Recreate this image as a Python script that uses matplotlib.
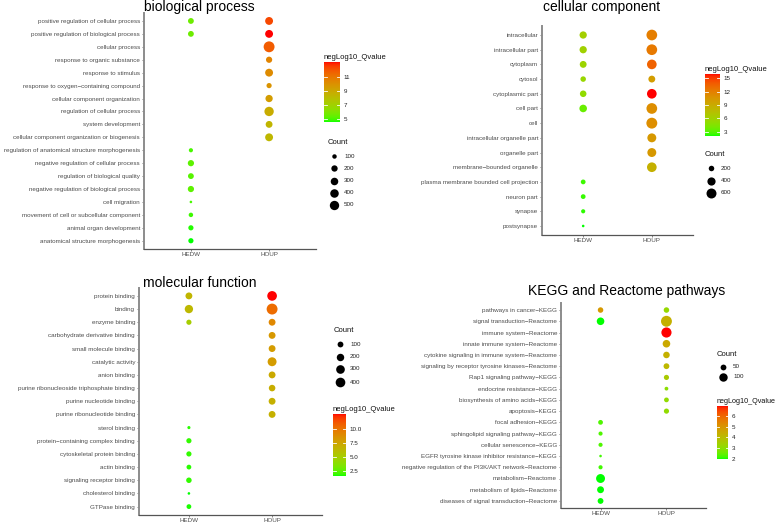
import numpy as np
import matplotlib
matplotlib.use("Agg")
import matplotlib.pyplot as plt
from matplotlib.colors import ListedColormap, Normalize
from matplotlib.cm import ScalarMappable

plt.rcParams['font.family'] = ['Liberation Sans', 'DejaVu Sans']

W, H = 778, 525
groups = ["HEDW", "HOUP"]
M = "\u2212"

# ---- biological process ----
bp_terms = ["positive regulation of cellular process", "positive regulation of biological process",
            "cellular process", "response to organic substance", "response to stimulus",
            f"response to oxygen{M}containing compound", "cellular component organization",
            "regulation of cellular process", "system development",
            "cellular component organization or biogenesis",
            "regulation of anatomical structure morphogenesis", "negative regulation of cellular process",
            "regulation of biological quality", "negative regulation of biological process",
            "cell migration", "movement of cell or subcellular component", "animal organ development",
            "anatomical structure morphogenesis"]
bp_hedw_count = [166, 166, None, None, None, None, None, None, None, None, 90, 192, 166, 192, 67, 100, 131, 131]
bp_hedw_q = [5.6, 5.6, None, None, None, None, None, None, None, None, 5.0, 5.3, 5.2, 5.3, 5.0, 4.9, 4.7, 4.6]
bp_houp_count = [333, 333, 723, 192, 333, 131, 274, 500, 239, 333] + [None] * 8
bp_houp_q = [12.3, 13.1, 11.8, 10.5, 10.2, 9.9, 9.5, 8.8, 8.4, 8.3] + [None] * 8

# ---- cellular component ----
cc_terms = ["intracellular", "intracellular part", "cytoplasm", "cytosol", "cytoplasmic part", "cell part",
            "cell", "intracellular organelle part", "organelle part", f"membrane{M}bounded organelle",
            "plasma membrane bounded cell projection", "neuron part", "synapse", "postsynapse"]
cc_hedw_count = [316, 316, 284, 200, 262, 342, None, None, None, None, 167, 167, 147, 126]
cc_hedw_q = [6.2, 6.0, 5.8, 5.6, 5.2, 3.6, None, None, None, None, 2.6, 2.5, 2.4, 2.1]
cc_houp_count = [700, 700, 560, 284, 560, 700, 727, 475, 475, 560] + [None] * 4
cc_houp_q = [12.0, 12.3, 13.5, 10.0, 15.9, 11.0, 11.0, 10.3, 10.3, 8.6] + [None] * 4

# ---- molecular function ----
mf_terms = ["protein binding", "binding", "enzyme binding", "carbohydrate derivative binding",
            "small molecule binding", "catalytic activity", "anion binding",
            "purine ribonucleoside triphosphate binding", "purine nucleotide binding",
            "purine ribonucleotide binding", "sterol binding", f"protein{M}containing complex binding",
            "cytoskeletal protein binding", "actin binding", "signaling receptor binding",
            "cholesterol binding", "GTPase binding"]
mf_hedw_count = [159, 269, 72, None, None, None, None, None, None, None, 23, 72, 72, 57, 85, 21, 57]
mf_hedw_q = [6.5, 6.3, 5.0, None, None, None, None, None, None, None, 1.8, 1.9, 1.9, 1.8, 1.9, 1.6, 1.7]
mf_houp_count = [400, 545, 159, 159, 159, 325, 159, 139, 159, 159] + [None] * 7
mf_houp_q = [12.6, 10.3, 9.0, 8.2, 8.0, 8.0, 7.2, 7.0, 6.8, 6.8] + [None] * 7

# ---- KEGG / Reactome ----
kr_terms = [f"pathways in cancer{M}KEGG", f"signal transduction{M}Reactome", f"immune system{M}Reactome",
            f"innate immune system{M}Reactome", f"cytokine signaling in immune system{M}Reactome",
            f"signaling by receptor tyrosine kinases{M}Reactome", f"Rap1 signaling pathway{M}KEGG",
            f"endocrine resistance{M}KEGG", f"biosynthesis of amino acids{M}KEGG", f"apoptosis{M}KEGG",
            f"focal adhesion{M}KEGG", f"sphingolipid signaling pathway{M}KEGG",
            f"cellular senescence{M}KEGG", f"EGFR tyrosine kinase inhibitor resistance{M}KEGG",
            f"negative regulation of the PI3K/AKT network{M}Reactome", f"metabolism{M}Reactome",
            f"metabolism of lipids{M}Reactome", f"diseases of signal transduction{M}Reactome"]
kr_hedw_count = [46, 81] + [None] * 8 + [38, 33, 33, 28, 33, 113, 67, 50]
kr_hedw_q = [4.9, 2.0] + [None] * 8 + [2.3, 2.3, 2.3, 2.2, 2.2, 2.0, 2.0, 2.0]
kr_houp_count = [46, 175, 150, 81, 61, 50, 42, 31, 38, 42] + [None] * 8
kr_houp_q = [3.2, 4.3, 6.9, 4.5, 4.3, 4.1, 3.6, 3.0, 3.1, 3.1] + [None] * 8


def srgb_to_lab(rgb):
    c = np.array(rgb, float)
    lin = np.where(c <= 0.04045, c / 12.92, ((c + 0.055) / 1.055) ** 2.4)
    m = np.array([[0.4124, 0.3576, 0.1805], [0.2126, 0.7152, 0.0722], [0.0193, 0.1192, 0.9505]])
    xyz = m @ lin / np.array([0.95047, 1.0, 1.08883])
    f = np.where(xyz > 0.008856, np.cbrt(xyz), 7.787 * xyz + 16 / 116)
    return np.array([116 * f[1] - 16, 500 * (f[0] - f[1]), 200 * (f[1] - f[2])])


def lab_to_srgb(lab):
    L, a, b = lab
    fy = (L + 16) / 116
    fx = fy + a / 500
    fz = fy - b / 200
    f = np.array([fx, fy, fz])
    xyz = np.where(f ** 3 > 0.008856, f ** 3, (f - 16 / 116) / 7.787) * np.array([0.95047, 1.0, 1.08883])
    m = np.array([[3.2406, -1.5372, -0.4986], [-0.9689, 1.8758, 0.0415], [0.0557, -0.2040, 1.0570]])
    lin = m @ xyz
    c = np.where(lin <= 0.0031308, 12.92 * lin, 1.055 * np.abs(lin) ** (1 / 2.4) - 0.055)
    return np.clip(c, 0, 1)


# green -> red ramp interpolated in Lab, like ggplot's gradient
lo_lab = srgb_to_lab([0, 1, 0])
hi_lab = srgb_to_lab([1, 0, 0])
cmap = ListedColormap([lab_to_srgb(lo_lab + (hi_lab - lo_lab) * t) for t in np.linspace(0, 1, 256)])

fig = plt.figure(figsize=(W / 100, H / 100), dpi=100)
over = fig.add_axes([0, 0, 1, 1])
over.set_xlim(0, W)
over.set_ylim(H, 0)
over.axis("off")


def dot_size(c, lo, hi):
    d = 2.6 + 8.3 * np.sqrt((c - lo) / (hi - lo))
    return (d * 0.72) ** 2


def panel(box, terms, hc, hq, uc, uq):
    left, top, right, bottom = box
    ax = fig.add_axes([left / W, 1 - bottom / H, (right - left) / W, (bottom - top) / H])
    n = len(terms)
    ys = np.arange(n)[::-1]
    counts = [c for c in hc + uc if c is not None]
    qs = [q for q in hq + uq if q is not None]
    lo, hi = min(counts), max(counts)
    norm = Normalize(min(qs), max(qs))
    for gi, (cc, qq) in enumerate([(hc, hq), (uc, uq)]):
        idx = [i for i, c in enumerate(cc) if c is not None]
        ax.scatter([gi] * len(idx), ys[idx], s=[dot_size(cc[i], lo, hi) for i in idx],
                   c=[qq[i] for i in idx], cmap=cmap, norm=norm, linewidths=0, zorder=3)
    ax.set_xlim(-0.6, 1.6)
    ax.set_ylim(-0.6, n - 0.4)
    ax.set_xticks([0, 1], groups)
    ax.set_yticks(ys, terms)
    for s in ["top", "right"]:
        ax.spines[s].set_visible(False)
    ax.spines["left"].set_color("#8c8c8c")
    ax.spines["left"].set_linewidth(1.4)
    ax.spines["bottom"].set_color("#555555")
    ax.spines["bottom"].set_linewidth(0.9)
    ax.tick_params(axis="both", length=1.6, width=0.5, color="#555555", labelcolor="#4d4d4d",
                   labelsize=4.5, pad=1.2)
    ax.tick_params(axis="x", pad=1.0)
    ax.patch.set_alpha(0)
    return norm, lo, hi


def colorbar(norm, box, title, ticks, labels, title_size=5.5):
    left, top, right, bottom = box
    cax = fig.add_axes([left / W, 1 - bottom / H, (right - left) / W, (bottom - top) / H])
    cb = fig.colorbar(ScalarMappable(norm=norm, cmap=cmap), cax=cax, ticks=ticks)
    cb.outline.set_visible(False)
    cb.set_ticklabels(labels)
    cax.tick_params(length=0, labelsize=4.5, pad=2.5, colors="#222222")
    for t in ticks:
        cax.axhline(t, xmin=0, xmax=0.2, color="white", lw=0.6)
        cax.axhline(t, xmin=0.8, xmax=1, color="white", lw=0.6)
    over.text(left, top - 3, title, fontsize=title_size, va="baseline", ha="left", color="#111111")


def size_legend(lo, hi, x, ys, breaks, title_y):
    over.text(x - 6, title_y, "Count", fontsize=5.5, va="center", ha="left", color="#111111")
    for b, y in zip(breaks, ys):
        over.scatter([x], [y], s=dot_size(b, lo, hi), c="black", linewidths=0)
        over.text(x + 10, y, str(b), fontsize=4.5, va="center", ha="left", color="#222222")


# biological process
norm, lo, hi = panel((144, 13.2, 316, 248.5), bp_terms, bp_hedw_count, bp_hedw_q, bp_houp_count, bp_houp_q)
over.text(144, 11.5, "biological process", fontsize=10, va="baseline", ha="left")
colorbar(norm, (324, 62, 340, 122), "negLog10_Qvalue", [5, 7, 9, 11], ["5", "7", "9", "11"])
size_legend(lo, hi, 334, [156, 168.3, 180.7, 192.7, 205], [100, 200, 300, 400, 500], 142)

# cellular component
norm, lo, hi = panel((542, 26.2, 693, 234.8), cc_terms, cc_hedw_count, cc_hedw_q, cc_houp_count, cc_houp_q)
over.text(543, 11.5, "cellular component", fontsize=10, va="baseline", ha="left")
colorbar(norm, (705, 74, 720, 136), "negLog10_Qvalue", [3, 6, 9, 12, 15], ["3", "6", "9", "12", "15"])
size_legend(lo, hi, 711, [168, 181, 193], [200, 400, 600], 154)

# molecular function
norm, lo, hi = panel((139, 288, 322, 514.5), mf_terms, mf_hedw_count, mf_hedw_q, mf_houp_count, mf_houp_q)
over.text(143, 287, "molecular function", fontsize=10, va="baseline", ha="left")
colorbar(norm, (333, 414, 346, 476), "negLog10_Qvalue", [2.5, 5.0, 7.5, 10.0], ["2.5", "5.0", "7.5", "10.0"])
size_legend(lo, hi, 340, [344, 357, 369, 382], [100, 200, 300, 400], 331)

# KEGG / Reactome
norm, lo, hi = panel((561, 303.3, 706, 507.7), kr_terms, kr_hedw_count, kr_hedw_q, kr_houp_count, kr_houp_q)
over.text(528, 295, "KEGG and Reactome pathways", fontsize=10, va="baseline", ha="left")
colorbar(norm, (717, 406, 728, 459), "negLog10_Qvalue", [2, 3, 4, 5, 6], ["2", "3", "4", "5", "6"],
         title_size=5.2)
size_legend(lo, hi, 723, [367, 377], [50, 100], 355)

fig.savefig("out.png", dpi=100)
